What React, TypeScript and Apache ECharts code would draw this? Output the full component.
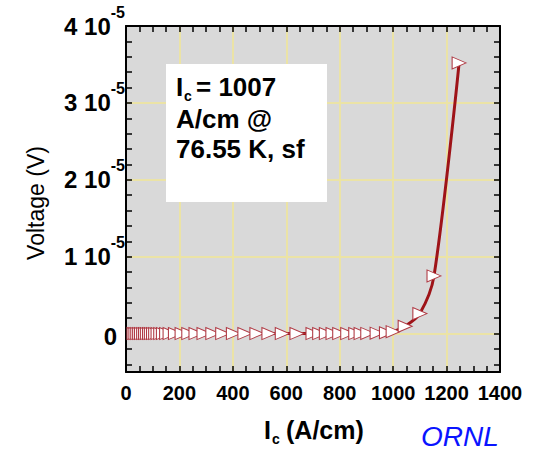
import React, { useEffect, useRef } from "react";
import * as echarts from "echarts";

// Data (current density in A/cm, voltage in units of 1e-5 V)
const currentDensity = [
  30, 37, 44, 51, 58, 66, 73, 80, 88, 95, 103, 111, 120, 130, 140, 152,
  165, 185, 210, 235, 262, 292, 325, 362, 402, 445, 490, 535, 585, 640,
  700, 725, 750, 775, 800, 830, 860, 880, 905, 940, 975, 1000, 1045, 1100,
  1153, 1247,
];
const voltage = [
  0, 0, 0, 0, 0, 0, 0, 0, 0, 0, 0, 0, 0, 0, 0, 0,
  0, 0, 0, 0, 0, 0, 0, 0, 0, 0, 0, 0, 0, 0,
  0, 0, 0, 0, 0, 0, 0, 0, 0.002, 0.005, 0.01, 0.025, 0.095, 0.26,
  0.75, 3.52,
];
const xTickLabels = [0, 200, 400, 600, 800, 1000, 1200, 1400];
const yTickLabels = [0, 1, 2, 3, 4];
const yTicks = [
  -0.4, -0.2, 0, 0.2, 0.4, 0.6, 0.8, 1, 1.2, 1.4, 1.6, 1.8, 2, 2.2, 2.4,
  2.6, 2.8, 3, 3.2, 3.4, 3.6, 3.8, 4,
];

const FONT = "'Liberation Sans', Arial, Helvetica, sans-serif";

export default function App() {
  const ref = useRef<HTMLDivElement>(null);
  useEffect(() => {
    if (!ref.current) return;
    const chart = echarts.init(ref.current, null, { renderer: "svg" });
    const gridLeft = 126;
    const gridTop = 26;
    const gridRight = 42;
    const gridBottom = 80;
    const plotH = 452 - gridTop - gridBottom;
    const yMin = -0.5;
    const yMax = 4;
    const upperH = (plotH * (yMax - 0)) / (yMax - yMin);
    const gridColor = "#ebe3a6";
    const tickStyle = { show: true, inside: true, length: 6, lineStyle: { color: "#000", width: 1.5 } };
    const axisLineStyle = { show: true, onZero: false, lineStyle: { color: "#000", width: 2 } };

    const option: any = {
      animation: false,
      grid: [
        {
          left: gridLeft, top: gridTop, right: gridRight, bottom: gridBottom,
          show: true, backgroundColor: "#d9d9d9", borderWidth: 0,
        },
        { left: gridLeft, top: gridTop, right: gridRight, height: upperH, show: false },
      ],
      xAxis: [
        {
          type: "value", gridIndex: 0, position: "bottom", min: 0, max: 1400, interval: 50,
          axisLine: axisLineStyle, axisTick: tickStyle,
          axisLabel: {
            interval: 0,
            margin: 11,
            formatter: (v: number) => (xTickLabels.indexOf(v) >= 0 ? String(v) : ""),
            color: "#000", fontSize: 20, fontWeight: "bold", fontFamily: FONT,
            showMinLabel: true, showMaxLabel: true, hideOverlap: false,
          },
          splitLine: { show: false },
        },
        {
          type: "value", gridIndex: 0, position: "top", min: 0, max: 1400, interval: 50,
          axisLine: axisLineStyle, axisTick: tickStyle, axisLabel: { show: false },
          splitLine: { show: false },
        },
        {
          type: "value", gridIndex: 0, position: "bottom", min: 0, max: 1400, interval: 200,
          axisLine: { show: false }, axisTick: { show: false }, axisLabel: { show: false },
          splitLine: { show: true, lineStyle: { color: gridColor, width: 2 } },
        },
        {
          type: "value", gridIndex: 1, min: 0, max: 1400, show: false,
        },
      ],
      yAxis: [
        {
          type: "value", gridIndex: 0, position: "left", min: yMin, max: yMax,
          axisLine: axisLineStyle,
          axisTick: { ...tickStyle, customValues: yTicks },
          axisLabel: {
            customValues: yTickLabels,
            margin: 1,
            formatter: (v: number) => (Math.abs(v) < 1e-9 ? "{z|0}" : `{n|${Math.round(v)} 10}{s|-5}`),
            rich: {
              z: { fontSize: 24, fontWeight: "bold", fontFamily: FONT, color: "#000", padding: [5, 8, 0, 0] },
              n: { fontSize: 24, fontWeight: "bold", fontFamily: FONT, color: "#000", lineHeight: 24, verticalAlign: "bottom" },
              s: { fontSize: 16, fontWeight: "bold", fontFamily: FONT, color: "#000", lineHeight: 16, padding: [0, 0, 18, 0], verticalAlign: "bottom" },
            },
          },
          splitLine: { show: false },
        },
        {
          type: "value", gridIndex: 0, position: "right", min: yMin, max: yMax,
          axisLine: axisLineStyle,
          axisTick: { ...tickStyle, customValues: yTicks },
          axisLabel: { show: false },
          splitLine: { show: false },
        },
        {
          type: "value", gridIndex: 1, min: 0, max: 4, interval: 1,
          axisLine: { show: false }, axisTick: { show: false }, axisLabel: { show: false },
          splitLine: { show: true, lineStyle: { color: gridColor, width: 2 } },
        },
      ],
      series: [
        {
          type: "line",
          xAxisIndex: 0,
          yAxisIndex: 0,
          data: currentDensity.map((x, i) => [x, voltage[i]]),
          smooth: 0.3,
          symbol: "triangle",
          symbolRotate: -90,
          symbolSize: [12, 14],
          showAllSymbol: true,
          lineStyle: { color: "#9e1318", width: 3 },
          itemStyle: { color: "#ffffff", borderColor: "#b03a44", borderWidth: 1 },
          z: 3,
        },
      ],
      graphic: [
        { type: "rect", shape: { x: 166, y: 64, width: 161, height: 138 }, style: { fill: "#ffffff" }, z: 10 },
        { type: "text", x: 176, y: 87, z: 11, style: { text: "I", font: `bold 26px ${FONT}`, fill: "#000", textVerticalAlign: "middle", verticalAlign: "middle" } },
        { type: "text", x: 184, y: 96, z: 11, style: { text: "c", font: `bold 14px ${FONT}`, fill: "#000", textVerticalAlign: "middle", verticalAlign: "middle" } },
        { type: "text", x: 196, y: 87, z: 11, style: { text: "= 1007", font: `bold 26px ${FONT}`, fill: "#000", textVerticalAlign: "middle", verticalAlign: "middle" } },
        { type: "text", x: 176, y: 119, z: 11, style: { text: "A/cm @", font: `bold 26px ${FONT}`, fill: "#000", textVerticalAlign: "middle", verticalAlign: "middle" } },
        { type: "text", x: 176, y: 149, z: 11, style: { text: "76.55 K, sf", font: `bold 26px ${FONT}`, fill: "#000", textVerticalAlign: "middle", verticalAlign: "middle" } },
        { type: "text", x: 264, y: 430, z: 11, style: { text: "I", font: `bold 25px ${FONT}`, fill: "#000", textVerticalAlign: "middle", verticalAlign: "middle" } },
        { type: "text", x: 272, y: 439, z: 11, style: { text: "c", font: `bold 14px ${FONT}`, fill: "#000", textVerticalAlign: "middle", verticalAlign: "middle" } },
        { type: "text", x: 286, y: 430, z: 11, style: { text: "(A/cm)", font: `bold 25px ${FONT}`, fill: "#000", textVerticalAlign: "middle", verticalAlign: "middle" } },
        {
          type: "text", x: 36, y: 203, rotation: Math.PI / 2, z: 11,
          style: { text: "Voltage (V)", font: `23px ${FONT}`, fill: "#000", textAlign: "center", align: "center", textVerticalAlign: "middle", verticalAlign: "middle" },
        },
        { type: "text", x: 421, y: 436, z: 11, style: { text: "ORNL", font: `italic 28px ${FONT}`, lineHeight: 28, fill: "#0a14ff", textVerticalAlign: "middle", verticalAlign: "middle" } },
      ],
    };
    chart.setOption(option);
    return () => chart.dispose();
  }, []);
  return <div ref={ref} style={{ width: 542, height: 452, position: "absolute", left: 0, top: 0 }} />;
}
